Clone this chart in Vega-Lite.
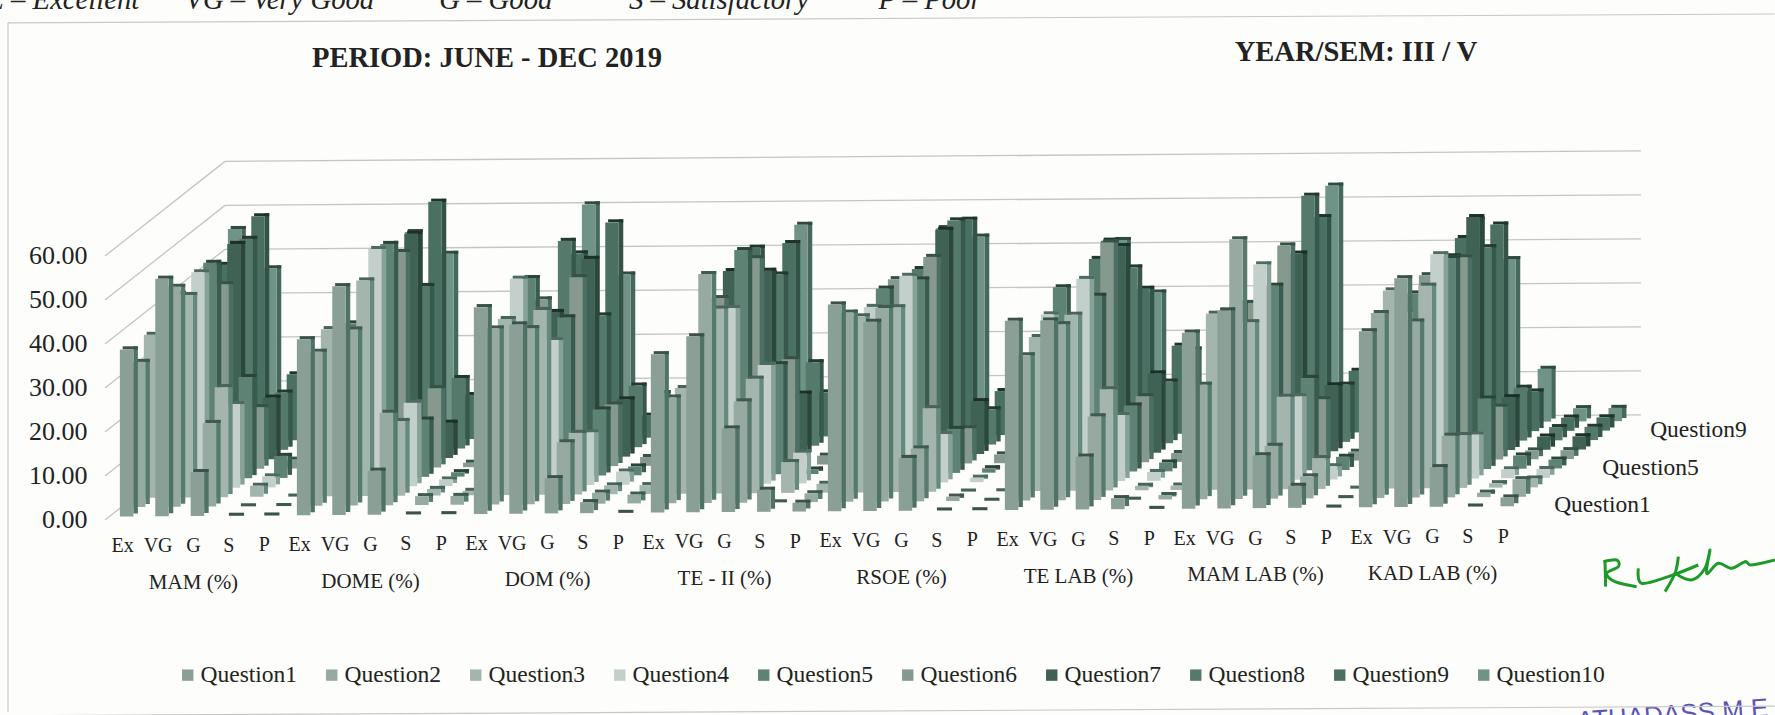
{
"$schema":"https://vega.github.io/schema/vega-lite/v6.json",
"width":1775,"height":715,"padding":0,"autosize":{"type":"none"},"background":"#fdfdfc",
"config":{"view":{"stroke":null},"text":{"font":"Liberation Serif","color":"#222222"}},
"datasets":{
"grid":[{"v":0},{"v":10},{"v":20},{"v":30},{"v":40},{"v":50},{"v":60}],
"ink":[{"k":1,"n":1,"a":85,"b":95},{"k":1,"n":2,"a":125,"b":90},{"k":1,"n":3,"a":130,"b":110},{"k":1,"n":4,"a":95,"b":130},{"k":1,"n":5,"a":120,"b":155},{"k":1,"n":6,"a":185,"b":170},
{"k":2,"n":1,"a":90,"b":95},{"k":2,"n":2,"a":92,"b":170},
{"k":3,"n":1,"a":190,"b":115},{"k":3,"n":2,"a":200,"b":160},{"k":3,"n":3,"a":280,"b":140},{"k":3,"n":4,"a":370,"b":105},
{"k":4,"n":1,"a":310,"b":80},{"k":4,"n":2,"a":300,"b":130},{"k":4,"n":3,"a":270,"b":185},
{"k":5,"n":1,"a":300,"b":130},{"k":5,"n":2,"a":350,"b":150},{"k":5,"n":3,"a":390,"b":115},{"k":5,"n":4,"a":405,"b":60},{"k":5,"n":5,"a":395,"b":130},{"k":5,"n":6,"a":430,"b":100},{"k":5,"n":7,"a":470,"b":115},{"k":5,"n":8,"a":510,"b":95},{"k":5,"n":9,"a":530,"b":105},{"k":5,"n":10,"a":600,"b":90}],
"bars":[
{"s":"MAM","r":"Ex","q":1,"v":38},{"s":"MAM","r":"Ex","q":2,"v":33},{"s":"MAM","r":"Ex","q":3,"v":37},{"s":"MAM","r":"Ex","q":4,"v":40},{"s":"MAM","r":"Ex","q":5,"v":42},{"s":"MAM","r":"Ex","q":6,"v":38},{"s":"MAM","r":"Ex","q":7,"v":41},{"s":"MAM","r":"Ex","q":8,"v":42},{"s":"MAM","r":"Ex","q":9,"v":40},{"s":"MAM","r":"Ex","q":10,"v":46},
{"s":"MAM","r":"VG","q":1,"v":54},{"s":"MAM","r":"VG","q":2,"v":50},{"s":"MAM","r":"VG","q":3,"v":46},{"s":"MAM","r":"VG","q":4,"v":49},{"s":"MAM","r":"VG","q":5,"v":49},{"s":"MAM","r":"VG","q":6,"v":42},{"s":"MAM","r":"VG","q":7,"v":49},{"s":"MAM","r":"VG","q":8,"v":48},{"s":"MAM","r":"VG","q":9,"v":51},{"s":"MAM","r":"VG","q":10,"v":37},
{"s":"MAM","r":"G","q":1,"v":10},{"s":"MAM","r":"G","q":2,"v":19},{"s":"MAM","r":"G","q":3,"v":25},{"s":"MAM","r":"G","q":4,"v":19},{"s":"MAM","r":"G","q":5,"v":23},{"s":"MAM","r":"G","q":6,"v":14},{"s":"MAM","r":"G","q":7,"v":14},{"s":"MAM","r":"G","q":8,"v":13},{"s":"MAM","r":"G","q":9,"v":15},{"s":"MAM","r":"G","q":10,"v":10},
{"s":"MAM","r":"S","q":1,"v":0},{"s":"MAM","r":"S","q":2,"v":0},{"s":"MAM","r":"S","q":3,"v":2.5},{"s":"MAM","r":"S","q":4,"v":2.5},{"s":"MAM","r":"S","q":5,"v":5},{"s":"MAM","r":"S","q":6,"v":2},{"s":"MAM","r":"S","q":7,"v":4},{"s":"MAM","r":"S","q":8,"v":2},{"s":"MAM","r":"S","q":9,"v":2},{"s":"MAM","r":"S","q":10,"v":2},
{"s":"MAM","r":"P","q":1,"v":0},{"s":"MAM","r":"P","q":2,"v":0},{"s":"MAM","r":"P","q":3,"v":0},{"s":"MAM","r":"P","q":4,"v":1},{"s":"MAM","r":"P","q":5,"v":2},{"s":"MAM","r":"P","q":6,"v":1},{"s":"MAM","r":"P","q":7,"v":1},{"s":"MAM","r":"P","q":8,"v":1},{"s":"MAM","r":"P","q":9,"v":1},{"s":"MAM","r":"P","q":10,"v":1},
{"s":"DOME","r":"Ex","q":1,"v":40},{"s":"DOME","r":"Ex","q":2,"v":35},{"s":"DOME","r":"Ex","q":3,"v":38},{"s":"DOME","r":"Ex","q":4,"v":30},{"s":"DOME","r":"Ex","q":5,"v":35},{"s":"DOME","r":"Ex","q":6,"v":40},{"s":"DOME","r":"Ex","q":7,"v":36},{"s":"DOME","r":"Ex","q":8,"v":38},{"s":"DOME","r":"Ex","q":9,"v":35},{"s":"DOME","r":"Ex","q":10,"v":45},
{"s":"DOME","r":"VG","q":1,"v":52},{"s":"DOME","r":"VG","q":2,"v":40},{"s":"DOME","r":"VG","q":3,"v":49},{"s":"DOME","r":"VG","q":4,"v":54},{"s":"DOME","r":"VG","q":5,"v":53},{"s":"DOME","r":"VG","q":6,"v":49},{"s":"DOME","r":"VG","q":7,"v":51},{"s":"DOME","r":"VG","q":8,"v":37},{"s":"DOME","r":"VG","q":9,"v":54},{"s":"DOME","r":"VG","q":10,"v":40},
{"s":"DOME","r":"G","q":1,"v":10},{"s":"DOME","r":"G","q":2,"v":21},{"s":"DOME","r":"G","q":3,"v":17},{"s":"DOME","r":"G","q":4,"v":19},{"s":"DOME","r":"G","q":5,"v":13},{"s":"DOME","r":"G","q":6,"v":18},{"s":"DOME","r":"G","q":7,"v":8},{"s":"DOME","r":"G","q":8,"v":16},{"s":"DOME","r":"G","q":9,"v":10},{"s":"DOME","r":"G","q":10,"v":12},
{"s":"DOME","r":"S","q":1,"v":0},{"s":"DOME","r":"S","q":2,"v":2},{"s":"DOME","r":"S","q":3,"v":1.5},{"s":"DOME","r":"S","q":4,"v":1.5},{"s":"DOME","r":"S","q":5,"v":1},{"s":"DOME","r":"S","q":6,"v":1},{"s":"DOME","r":"S","q":7,"v":3},{"s":"DOME","r":"S","q":8,"v":1},{"s":"DOME","r":"S","q":9,"v":1},{"s":"DOME","r":"S","q":10,"v":1},
{"s":"DOME","r":"P","q":1,"v":0},{"s":"DOME","r":"P","q":2,"v":2},{"s":"DOME","r":"P","q":3,"v":1},{"s":"DOME","r":"P","q":4,"v":1},{"s":"DOME","r":"P","q":5,"v":1},{"s":"DOME","r":"P","q":6,"v":1},{"s":"DOME","r":"P","q":7,"v":1},{"s":"DOME","r":"P","q":8,"v":1},{"s":"DOME","r":"P","q":9,"v":1},{"s":"DOME","r":"P","q":10,"v":1},
{"s":"DOM","r":"Ex","q":1,"v":47},{"s":"DOM","r":"Ex","q":2,"v":40},{"s":"DOM","r":"Ex","q":3,"v":40},{"s":"DOM","r":"Ex","q":4,"v":47},{"s":"DOM","r":"Ex","q":5,"v":45},{"s":"DOM","r":"Ex","q":6,"v":38},{"s":"DOM","r":"Ex","q":7,"v":33},{"s":"DOM","r":"Ex","q":8,"v":47},{"s":"DOM","r":"Ex","q":9,"v":42},{"s":"DOM","r":"Ex","q":10,"v":51},
{"s":"DOM","r":"VG","q":1,"v":43},{"s":"DOM","r":"VG","q":2,"v":40},{"s":"DOM","r":"VG","q":3,"v":42},{"s":"DOM","r":"VG","q":4,"v":33},{"s":"DOM","r":"VG","q":5,"v":36},{"s":"DOM","r":"VG","q":6,"v":43},{"s":"DOM","r":"VG","q":7,"v":45},{"s":"DOM","r":"VG","q":8,"v":30},{"s":"DOM","r":"VG","q":9,"v":49},{"s":"DOM","r":"VG","q":10,"v":35},
{"s":"DOM","r":"G","q":1,"v":8},{"s":"DOM","r":"G","q":2,"v":14},{"s":"DOM","r":"G","q":3,"v":14},{"s":"DOM","r":"G","q":4,"v":12},{"s":"DOM","r":"G","q":5,"v":15},{"s":"DOM","r":"G","q":6,"v":14},{"s":"DOM","r":"G","q":7,"v":13},{"s":"DOM","r":"G","q":8,"v":14},{"s":"DOM","r":"G","q":9,"v":5},{"s":"DOM","r":"G","q":10,"v":8},
{"s":"DOM","r":"S","q":1,"v":2.5},{"s":"DOM","r":"S","q":2,"v":2.5},{"s":"DOM","r":"S","q":3,"v":2},{"s":"DOM","r":"S","q":4,"v":3},{"s":"DOM","r":"S","q":5,"v":2},{"s":"DOM","r":"S","q":6,"v":2},{"s":"DOM","r":"S","q":7,"v":5},{"s":"DOM","r":"S","q":8,"v":2},{"s":"DOM","r":"S","q":9,"v":2},{"s":"DOM","r":"S","q":10,"v":3},
{"s":"DOM","r":"P","q":1,"v":0},{"s":"DOM","r":"P","q":2,"v":2},{"s":"DOM","r":"P","q":3,"v":2},{"s":"DOM","r":"P","q":4,"v":4},{"s":"DOM","r":"P","q":5,"v":2},{"s":"DOM","r":"P","q":6,"v":2},{"s":"DOM","r":"P","q":7,"v":3},{"s":"DOM","r":"P","q":8,"v":3},{"s":"DOM","r":"P","q":9,"v":2},{"s":"DOM","r":"P","q":10,"v":3},
{"s":"TE - II","r":"Ex","q":1,"v":36},{"s":"TE - II","r":"Ex","q":2,"v":24},{"s":"TE - II","r":"Ex","q":3,"v":24},{"s":"TE - II","r":"Ex","q":4,"v":25},{"s":"TE - II","r":"Ex","q":5,"v":32},{"s":"TE - II","r":"Ex","q":6,"v":38},{"s":"TE - II","r":"Ex","q":7,"v":42},{"s":"TE - II","r":"Ex","q":8,"v":39},{"s":"TE - II","r":"Ex","q":9,"v":43},{"s":"TE - II","r":"Ex","q":10,"v":35},
{"s":"TE - II","r":"VG","q":1,"v":40},{"s":"TE - II","r":"VG","q":2,"v":52},{"s":"TE - II","r":"VG","q":3,"v":42},{"s":"TE - II","r":"VG","q":4,"v":40},{"s":"TE - II","r":"VG","q":5,"v":51},{"s":"TE - II","r":"VG","q":6,"v":47},{"s":"TE - II","r":"VG","q":7,"v":42},{"s":"TE - II","r":"VG","q":8,"v":39},{"s":"TE - II","r":"VG","q":9,"v":44},{"s":"TE - II","r":"VG","q":10,"v":46},
{"s":"TE - II","r":"G","q":1,"v":19},{"s":"TE - II","r":"G","q":2,"v":23},{"s":"TE - II","r":"G","q":3,"v":26},{"s":"TE - II","r":"G","q":4,"v":27},{"s":"TE - II","r":"G","q":5,"v":25},{"s":"TE - II","r":"G","q":6,"v":24},{"s":"TE - II","r":"G","q":7,"v":14},{"s":"TE - II","r":"G","q":8,"v":19},{"s":"TE - II","r":"G","q":9,"v":10},{"s":"TE - II","r":"G","q":10,"v":18},
{"s":"TE - II","r":"S","q":1,"v":5},{"s":"TE - II","r":"S","q":2,"v":0},{"s":"TE - II","r":"S","q":3,"v":7},{"s":"TE - II","r":"S","q":4,"v":7},{"s":"TE - II","r":"S","q":5,"v":1},{"s":"TE - II","r":"S","q":6,"v":2},{"s":"TE - II","r":"S","q":7,"v":2},{"s":"TE - II","r":"S","q":8,"v":2},{"s":"TE - II","r":"S","q":9,"v":2},{"s":"TE - II","r":"S","q":10,"v":1},
{"s":"TE - II","r":"P","q":1,"v":2},{"s":"TE - II","r":"P","q":2,"v":2},{"s":"TE - II","r":"P","q":3,"v":2},{"s":"TE - II","r":"P","q":4,"v":1},{"s":"TE - II","r":"P","q":5,"v":1},{"s":"TE - II","r":"P","q":6,"v":1},{"s":"TE - II","r":"P","q":7,"v":1},{"s":"TE - II","r":"P","q":8,"v":1},{"s":"TE - II","r":"P","q":9,"v":1},{"s":"TE - II","r":"P","q":10,"v":1},
{"s":"RSOE","r":"Ex","q":1,"v":47},{"s":"RSOE","r":"Ex","q":2,"v":43},{"s":"RSOE","r":"Ex","q":3,"v":40},{"s":"RSOE","r":"Ex","q":4,"v":40},{"s":"RSOE","r":"Ex","q":5,"v":42},{"s":"RSOE","r":"Ex","q":6,"v":42},{"s":"RSOE","r":"Ex","q":7,"v":40},{"s":"RSOE","r":"Ex","q":8,"v":40},{"s":"RSOE","r":"Ex","q":9,"v":38},{"s":"RSOE","r":"Ex","q":10,"v":45},
{"s":"RSOE","r":"VG","q":1,"v":43},{"s":"RSOE","r":"VG","q":2,"v":44},{"s":"RSOE","r":"VG","q":3,"v":42},{"s":"RSOE","r":"VG","q":4,"v":47},{"s":"RSOE","r":"VG","q":5,"v":44},{"s":"RSOE","r":"VG","q":6,"v":47},{"s":"RSOE","r":"VG","q":7,"v":51},{"s":"RSOE","r":"VG","q":8,"v":51},{"s":"RSOE","r":"VG","q":9,"v":49},{"s":"RSOE","r":"VG","q":10,"v":43},
{"s":"RSOE","r":"G","q":1,"v":12},{"s":"RSOE","r":"G","q":2,"v":12},{"s":"RSOE","r":"G","q":3,"v":19},{"s":"RSOE","r":"G","q":4,"v":11},{"s":"RSOE","r":"G","q":5,"v":10},{"s":"RSOE","r":"G","q":6,"v":8},{"s":"RSOE","r":"G","q":7,"v":12},{"s":"RSOE","r":"G","q":8,"v":8},{"s":"RSOE","r":"G","q":9,"v":10},{"s":"RSOE","r":"G","q":10,"v":9},
{"s":"RSOE","r":"S","q":1,"v":0},{"s":"RSOE","r":"S","q":2,"v":1},{"s":"RSOE","r":"S","q":3,"v":0},{"s":"RSOE","r":"S","q":4,"v":1},{"s":"RSOE","r":"S","q":5,"v":1},{"s":"RSOE","r":"S","q":6,"v":2},{"s":"RSOE","r":"S","q":7,"v":1},{"s":"RSOE","r":"S","q":8,"v":1},{"s":"RSOE","r":"S","q":9,"v":2},{"s":"RSOE","r":"S","q":10,"v":2},
{"s":"RSOE","r":"P","q":1,"v":0},{"s":"RSOE","r":"P","q":2,"v":0},{"s":"RSOE","r":"P","q":3,"v":0},{"s":"RSOE","r":"P","q":4,"v":1},{"s":"RSOE","r":"P","q":5,"v":1},{"s":"RSOE","r":"P","q":6,"v":1},{"s":"RSOE","r":"P","q":7,"v":1},{"s":"RSOE","r":"P","q":8,"v":0},{"s":"RSOE","r":"P","q":9,"v":1},{"s":"RSOE","r":"P","q":10,"v":1},
{"s":"TE LAB","r":"Ex","q":1,"v":43},{"s":"TE LAB","r":"Ex","q":2,"v":33},{"s":"TE LAB","r":"Ex","q":3,"v":35},{"s":"TE LAB","r":"Ex","q":4,"v":38},{"s":"TE LAB","r":"Ex","q":5,"v":42},{"s":"TE LAB","r":"Ex","q":6,"v":32},{"s":"TE LAB","r":"Ex","q":7,"v":32},{"s":"TE LAB","r":"Ex","q":8,"v":42},{"s":"TE LAB","r":"Ex","q":9,"v":44},{"s":"TE LAB","r":"Ex","q":10,"v":42},
{"s":"TE LAB","r":"VG","q":1,"v":43},{"s":"TE LAB","r":"VG","q":2,"v":40},{"s":"TE LAB","r":"VG","q":3,"v":40},{"s":"TE LAB","r":"VG","q":4,"v":46},{"s":"TE LAB","r":"VG","q":5,"v":40},{"s":"TE LAB","r":"VG","q":6,"v":50},{"s":"TE LAB","r":"VG","q":7,"v":47},{"s":"TE LAB","r":"VG","q":8,"v":40},{"s":"TE LAB","r":"VG","q":9,"v":33},{"s":"TE LAB","r":"VG","q":10,"v":30},
{"s":"TE LAB","r":"G","q":1,"v":12},{"s":"TE LAB","r":"G","q":2,"v":19},{"s":"TE LAB","r":"G","q":3,"v":23},{"s":"TE LAB","r":"G","q":4,"v":15},{"s":"TE LAB","r":"G","q":5,"v":15},{"s":"TE LAB","r":"G","q":6,"v":15},{"s":"TE LAB","r":"G","q":7,"v":18},{"s":"TE LAB","r":"G","q":8,"v":14},{"s":"TE LAB","r":"G","q":9,"v":20},{"s":"TE LAB","r":"G","q":10,"v":17},
{"s":"TE LAB","r":"S","q":1,"v":2.5},{"s":"TE LAB","r":"S","q":2,"v":0},{"s":"TE LAB","r":"S","q":3,"v":1},{"s":"TE LAB","r":"S","q":4,"v":2},{"s":"TE LAB","r":"S","q":5,"v":2},{"s":"TE LAB","r":"S","q":6,"v":2},{"s":"TE LAB","r":"S","q":7,"v":2},{"s":"TE LAB","r":"S","q":8,"v":2},{"s":"TE LAB","r":"S","q":9,"v":2},{"s":"TE LAB","r":"S","q":10,"v":8},
{"s":"TE LAB","r":"P","q":1,"v":0},{"s":"TE LAB","r":"P","q":2,"v":1},{"s":"TE LAB","r":"P","q":3,"v":1},{"s":"TE LAB","r":"P","q":4,"v":1},{"s":"TE LAB","r":"P","q":5,"v":1},{"s":"TE LAB","r":"P","q":6,"v":1},{"s":"TE LAB","r":"P","q":7,"v":1},{"s":"TE LAB","r":"P","q":8,"v":1},{"s":"TE LAB","r":"P","q":9,"v":1},{"s":"TE LAB","r":"P","q":10,"v":1},
{"s":"MAM LAB","r":"Ex","q":1,"v":40},{"s":"MAM LAB","r":"Ex","q":2,"v":26},{"s":"MAM LAB","r":"Ex","q":3,"v":40},{"s":"MAM LAB","r":"Ex","q":4,"v":38},{"s":"MAM LAB","r":"Ex","q":5,"v":38},{"s":"MAM LAB","r":"Ex","q":6,"v":36},{"s":"MAM LAB","r":"Ex","q":7,"v":36},{"s":"MAM LAB","r":"Ex","q":8,"v":30},{"s":"MAM LAB","r":"Ex","q":9,"v":35},{"s":"MAM LAB","r":"Ex","q":10,"v":32},
{"s":"MAM LAB","r":"VG","q":1,"v":45},{"s":"MAM LAB","r":"VG","q":2,"v":59},{"s":"MAM LAB","r":"VG","q":3,"v":38},{"s":"MAM LAB","r":"VG","q":4,"v":49},{"s":"MAM LAB","r":"VG","q":5,"v":42},{"s":"MAM LAB","r":"VG","q":6,"v":49},{"s":"MAM LAB","r":"VG","q":7,"v":45},{"s":"MAM LAB","r":"VG","q":8,"v":56},{"s":"MAM LAB","r":"VG","q":9,"v":49},{"s":"MAM LAB","r":"VG","q":10,"v":54},
{"s":"MAM LAB","r":"G","q":1,"v":12},{"s":"MAM LAB","r":"G","q":2,"v":12},{"s":"MAM LAB","r":"G","q":3,"v":21},{"s":"MAM LAB","r":"G","q":4,"v":19},{"s":"MAM LAB","r":"G","q":5,"v":21},{"s":"MAM LAB","r":"G","q":6,"v":14},{"s":"MAM LAB","r":"G","q":7,"v":15},{"s":"MAM LAB","r":"G","q":8,"v":13},{"s":"MAM LAB","r":"G","q":9,"v":14},{"s":"MAM LAB","r":"G","q":10,"v":14},
{"s":"MAM LAB","r":"S","q":1,"v":5},{"s":"MAM LAB","r":"S","q":2,"v":5},{"s":"MAM LAB","r":"S","q":3,"v":7},{"s":"MAM LAB","r":"S","q":4,"v":3},{"s":"MAM LAB","r":"S","q":5,"v":3},{"s":"MAM LAB","r":"S","q":6,"v":2},{"s":"MAM LAB","r":"S","q":7,"v":3},{"s":"MAM LAB","r":"S","q":8,"v":1},{"s":"MAM LAB","r":"S","q":9,"v":2},{"s":"MAM LAB","r":"S","q":10,"v":1},
{"s":"MAM LAB","r":"P","q":1,"v":0},{"s":"MAM LAB","r":"P","q":2,"v":0},{"s":"MAM LAB","r":"P","q":3,"v":0},{"s":"MAM LAB","r":"P","q":4,"v":1},{"s":"MAM LAB","r":"P","q":5,"v":1},{"s":"MAM LAB","r":"P","q":6,"v":1},{"s":"MAM LAB","r":"P","q":7,"v":1},{"s":"MAM LAB","r":"P","q":8,"v":0},{"s":"MAM LAB","r":"P","q":9,"v":1},{"s":"MAM LAB","r":"P","q":10,"v":1},
{"s":"KAD LAB","r":"Ex","q":1,"v":40},{"s":"KAD LAB","r":"Ex","q":2,"v":42},{"s":"KAD LAB","r":"Ex","q":3,"v":45},{"s":"KAD LAB","r":"Ex","q":4,"v":38},{"s":"KAD LAB","r":"Ex","q":5,"v":40},{"s":"KAD LAB","r":"Ex","q":6,"v":42},{"s":"KAD LAB","r":"Ex","q":7,"v":42},{"s":"KAD LAB","r":"Ex","q":8,"v":42},{"s":"KAD LAB","r":"Ex","q":9,"v":44},{"s":"KAD LAB","r":"Ex","q":10,"v":46},
{"s":"KAD LAB","r":"VG","q":1,"v":52},{"s":"KAD LAB","r":"VG","q":2,"v":40},{"s":"KAD LAB","r":"VG","q":3,"v":46},{"s":"KAD LAB","r":"VG","q":4,"v":51},{"s":"KAD LAB","r":"VG","q":5,"v":48},{"s":"KAD LAB","r":"VG","q":6,"v":46},{"s":"KAD LAB","r":"VG","q":7,"v":53},{"s":"KAD LAB","r":"VG","q":8,"v":44},{"s":"KAD LAB","r":"VG","q":9,"v":47},{"s":"KAD LAB","r":"VG","q":10,"v":37},
{"s":"KAD LAB","r":"G","q":1,"v":9},{"s":"KAD LAB","r":"G","q":2,"v":14},{"s":"KAD LAB","r":"G","q":3,"v":12},{"s":"KAD LAB","r":"G","q":4,"v":10},{"s":"KAD LAB","r":"G","q":5,"v":16},{"s":"KAD LAB","r":"G","q":6,"v":12},{"s":"KAD LAB","r":"G","q":7,"v":12},{"s":"KAD LAB","r":"G","q":8,"v":12},{"s":"KAD LAB","r":"G","q":9,"v":9},{"s":"KAD LAB","r":"G","q":10,"v":12},
{"s":"KAD LAB","r":"S","q":1,"v":0},{"s":"KAD LAB","r":"S","q":2,"v":1},{"s":"KAD LAB","r":"S","q":3,"v":1},{"s":"KAD LAB","r":"S","q":4,"v":2},{"s":"KAD LAB","r":"S","q":5,"v":3},{"s":"KAD LAB","r":"S","q":6,"v":2},{"s":"KAD LAB","r":"S","q":7,"v":3},{"s":"KAD LAB","r":"S","q":8,"v":3},{"s":"KAD LAB","r":"S","q":9,"v":3},{"s":"KAD LAB","r":"S","q":10,"v":3},
{"s":"KAD LAB","r":"P","q":1,"v":2},{"s":"KAD LAB","r":"P","q":2,"v":4},{"s":"KAD LAB","r":"P","q":3,"v":2},{"s":"KAD LAB","r":"P","q":4,"v":2},{"s":"KAD LAB","r":"P","q":5,"v":2},{"s":"KAD LAB","r":"P","q":6,"v":2},{"s":"KAD LAB","r":"P","q":7,"v":3},{"s":"KAD LAB","r":"P","q":8,"v":3},{"s":"KAD LAB","r":"P","q":9,"v":3},{"s":"KAD LAB","r":"P","q":10,"v":3}
]},
"encoding":{
"x":{"field":"px","type":"quantitative","scale":{"domain":[-2.966,47.175],"range":[0,1775],"nice":false,"zero":false},"axis":null},
"y":{"field":"py","type":"quantitative","scale":{"domain":[-44.32,118.18],"range":[715,0],"nice":false,"zero":false},
"axis":{"title":null,"values":[0,10,20,30,40,50,60],"format":".2f","domain":false,"ticks":false,"grid":false,"offset":-87,"labelPadding":0,"labelFont":"Liberation Serif","labelFontSize":26,"labelColor":"#222222"}}
},
"layer":[
{"data":{"name":"grid"},"transform":[{"calculate":"3.39","as":"px"},{"calculate":"datum.v+21.3+0.06*3.39","as":"py"},{"calculate":"43.39","as":"ex"},{"calculate":"datum.v+21.3+0.06*43.39","as":"ey"}],
"mark":{"type":"rule","color":"#c4c6c4","strokeWidth":1.3},"encoding":{"x2":{"field":"ex"},"y2":{"field":"ey"}}},
{"data":{"name":"grid"},"transform":[{"calculate":"0","as":"px"},{"calculate":"datum.v","as":"py"},{"calculate":"3.39","as":"ex"},{"calculate":"datum.v+21.3+0.06*3.39","as":"ey"}],
"mark":{"type":"rule","color":"#c4c6c4","strokeWidth":1.3},"encoding":{"x2":{"field":"ex"},"y2":{"field":"ey"}}},
{"data":{"name":"bars"},"transform":[
{"calculate":"indexof(['MAM','DOME','DOM','TE - II','RSOE','TE LAB','MAM LAB','KAD LAB'],datum.s)*5+indexof(['Ex','VG','G','S','P'],datum.r)","as":"cat"},
{"calculate":"datum.cat+0.42+(datum.q-1)*0.339","as":"u"},
{"calculate":"0.75+(datum.q-1)*2.13+0.06*datum.u","as":"b"},
{"calculate":"['side','top','face']","as":"part"},
{"flatten":["part"]},
{"calculate":"datum.part=='face'?datum.u:datum.part=='side'?datum.u+0.381:datum.u+0.08","as":"px"},
{"calculate":"datum.part=='face'?datum.u+0.381:datum.u+0.508","as":"ex"},
{"calculate":"datum.part=='face'?datum.b+datum.v:datum.b+datum.v+0.7","as":"py"},
{"calculate":"datum.part=='face'?datum.b:datum.part=='side'?datum.b+0.7:datum.b+datum.v","as":"ey"},
{"calculate":"'Question'+datum.q+(datum.part=='face'?'':' '+datum.part)","as":"key"},
{"calculate":"(10-datum.q)*1000+datum.cat*3+indexof(['side','top','face'],datum.part)","as":"z"}
],
"mark":{"type":"rect"},
"encoding":{"x2":{"field":"ex"},"y2":{"field":"ey"},"order":{"field":"z","type":"quantitative"},
"color":{"field":"key","type":"nominal","scale":{
"domain":["Question1","Question2","Question3","Question4","Question5","Question6","Question7","Question8","Question9","Question10","Question1 side","Question2 side","Question3 side","Question4 side","Question5 side","Question6 side","Question7 side","Question8 side","Question9 side","Question10 side","Question1 top","Question2 top","Question3 top","Question4 top","Question5 top","Question6 top","Question7 top","Question8 top","Question9 top","Question10 top"],
"range":["#8a9f95","#96aaa1","#a3b5ad","#c3cfca","#5e8375","#85998f","#3f6254","#55796b","#4a7062","#6f9386","#4f7166","#577a6f","#66897d","#86a298","#3a5c50","#4c6f63","#2c483e","#37594d","#335348","#46695d","#3a5249","#3f5a50","#47635a","#4d6b60","#2a4439","#365247","#1c2f28","#24392f","#1f342b","#2f4a3f"]},
"legend":{"title":null,"orient":"none","legendX":176,"legendY":663,"direction":"horizontal","columns":10,"columnPadding":22,"values":["Question1","Question2","Question3","Question4","Question5","Question6","Question7","Question8","Question9","Question10"],"symbolType":"square","symbolSize":130,"labelFont":"Liberation Serif","labelFontSize":23.5,"labelColor":"#222222","labelOffset":1,"labelLimit":200}}}},
{"data":{"name":"bars"},"transform":[{"filter":"datum.q==1"},
{"calculate":"indexof(['MAM','DOME','DOM','TE - II','RSOE','TE LAB','MAM LAB','KAD LAB'],datum.s)*5+indexof(['Ex','VG','G','S','P'],datum.r)+0.5","as":"px"},
{"calculate":"-6+0.055*datum.px","as":"py"}],
"mark":{"type":"text","fontSize":20,"align":"center","baseline":"middle"},"encoding":{"text":{"field":"r"}}},
{"data":{"name":"bars"},"transform":[{"filter":"datum.q==1&&datum.r=='G'"},
{"calculate":"indexof(['MAM','DOME','DOM','TE - II','RSOE','TE LAB','MAM LAB','KAD LAB'],datum.s)*5+2.5","as":"px"},
{"calculate":"-14.4+0.055*datum.px","as":"py"},{"calculate":"datum.s+' (%)'","as":"label"}],
"mark":{"type":"text","fontSize":21,"align":"center","baseline":"middle"},"encoding":{"text":{"field":"label"}}},
{"data":{"name":"bars"},"transform":[{"filter":"datum.s=='KAD LAB'&&datum.r=='P'&&(datum.q==1||datum.q==5||datum.q==9)"},
{"calculate":"42.3+(datum.q-1)*0.339","as":"px"},{"calculate":"3.4+(datum.q-1)*2.13","as":"py"},{"calculate":"'Question'+datum.q","as":"label"}],
"mark":{"type":"text","fontSize":23.5,"align":"center","baseline":"middle"},"encoding":{"text":{"field":"label"}}},
{"data":{"name":"ink"},"transform":[{"calculate":"(1470+datum.a/3)/35.4","as":"px"},{"calculate":"(-10-datum.b/3)/4.4","as":"py"}],
"mark":{"type":"line","color":"#1d9a2a","strokeWidth":3,"interpolate":"cardinal"},"encoding":{"detail":{"field":"k"},"order":{"field":"n","type":"quantitative"}}},
{"data":{"values":[{"label":"PERIOD: JUNE - DEC 2019"}]},"transform":[{"calculate":"10.79","as":"px"},{"calculate":"105","as":"py"}],"mark":{"type":"text","fontSize":28.5,"fontWeight":"bold","align":"center","baseline":"middle"},"encoding":{"text":{"field":"label"}}},
{"data":{"values":[{"label":"YEAR/SEM: III / V"}]},"transform":[{"calculate":"35.34","as":"px"},{"calculate":"106.4","as":"py"}],"mark":{"type":"text","fontSize":28.5,"fontWeight":"bold","align":"center","baseline":"middle"},"encoding":{"text":{"field":"label"}}},
{"data":{"values":[{"label":"E – Excellent","u":-3.35},{"label":"VG – Very Good","u":2.27},{"label":"G – Good","u":9.44},{"label":"S – Satisfactory","u":14.8},{"label":"P – Poor","u":21.85}]},"transform":[{"calculate":"datum.u","as":"px"},{"calculate":"116.1","as":"py"}],"mark":{"type":"text","fontSize":28.7,"fontStyle":"italic","align":"left","baseline":"alphabetic"},"encoding":{"text":{"field":"label"}}},
{"data":{"values":[{"label":"ATHADASS M.E"}]},"transform":[{"calculate":"47.0","as":"px"},{"calculate":"-44.6","as":"py"}],"mark":{"type":"text","font":"Liberation Sans","fontSize":26,"color":"#5a55b5","align":"right","baseline":"alphabetic","angle":356},"encoding":{"text":{"field":"label"}}},
{"data":{"values":[{"a":-2.74,"b":113,"c":-2.74,"d":-43.6},{"a":-2.74,"b":113,"c":47.17,"d":115},{"a":-2.74,"b":-44.5,"c":47.17,"d":-42.3}]},"transform":[{"calculate":"datum.a","as":"px"},{"calculate":"datum.b","as":"py"},{"calculate":"datum.c","as":"ex"},{"calculate":"datum.d","as":"ey"}],"mark":{"type":"rule","color":"#c8c8c8","strokeWidth":1.2},"encoding":{"x2":{"field":"ex"},"y2":{"field":"ey"}}}
]
}
